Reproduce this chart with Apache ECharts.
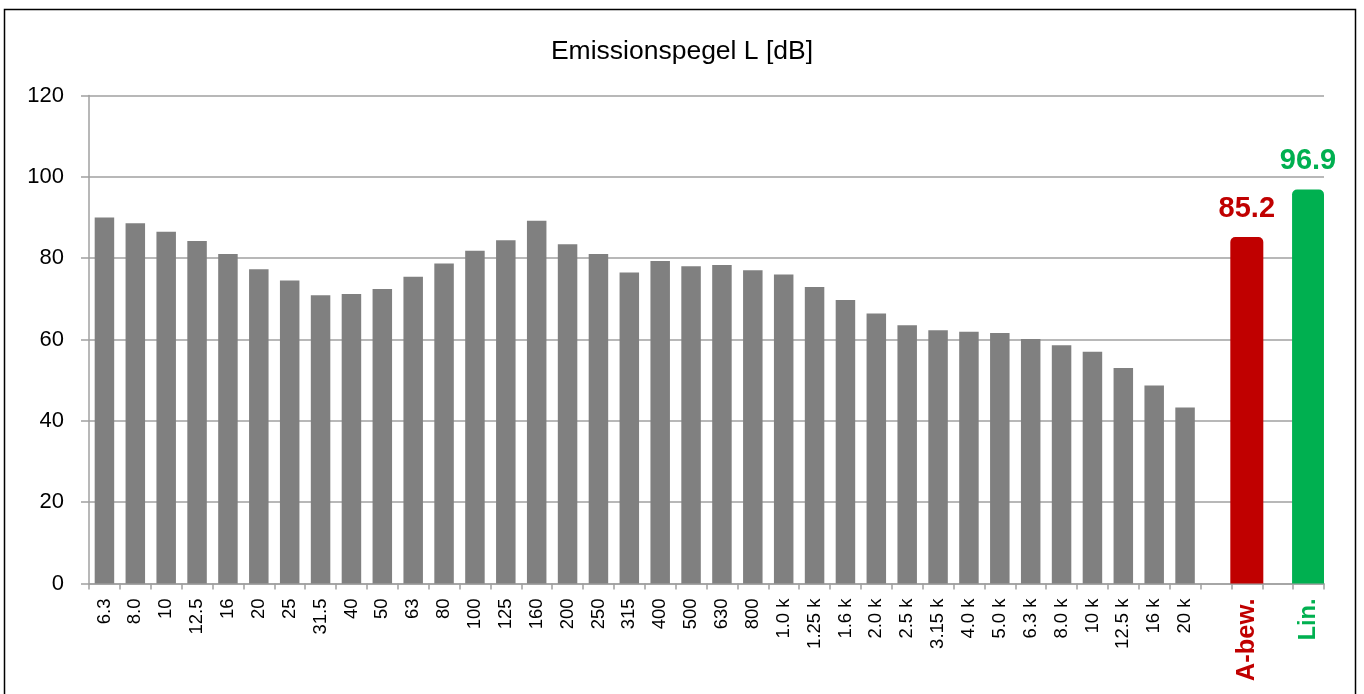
<!DOCTYPE html>
<html>
<head>
<meta charset="utf-8">
<script src="https://cdn.jsdelivr.net/npm/echarts@6/dist/echarts.min.js"></script>
<style>
  html, body { margin: 0; padding: 0; background: #ffffff; }
  #chart { width: 1364px; height: 694px; }
</style>
</head>
<body>
<div id="chart"></div>
<script>
// Third-octave band centre frequencies (Hz)
const bands = ['6.3', '8.0', '10', '12.5', '16', '20', '25', '31.5', '40', '50',
  '63', '80', '100', '125', '160', '200', '250', '315', '400', '500',
  '630', '800', '1.0 k', '1.25 k', '1.6 k', '2.0 k', '2.5 k', '3.15 k', '4.0 k', '5.0 k',
  '6.3 k', '8.0 k', '10 k', '12.5 k', '16 k', '20 k'];

// Emission level per band (dB)
const levels = [90.0, 88.6, 86.5, 84.2, 81.0, 77.3, 74.5, 70.9, 71.2, 72.4,
  75.4, 78.7, 81.8, 84.4, 89.2, 83.4, 81.0, 76.5, 79.3, 78.0,
  78.3, 77.0, 76.0, 72.9, 69.7, 66.4, 63.5, 62.3, 61.9, 61.6,
  60.1, 58.6, 57.0, 53.0, 48.7, 43.3];

// Overall levels: A-weighted and linear (dB)
const totalNames = ['A-bew.', 'Lin.'];
const totalValues = [85.2, 96.9];

// Value axis ticks
const yMin = 0, yMax = 120, yStep = 20;

const FONT = "'Liberation Sans', Arial, sans-serif";
const RED = '#C00000';
const GREEN = '#00B050';
const GRAY = '#808080';
const LINE = '#a0a0a0';

// Category list: bands, spacer, A-bew., spacer, Lin.
const totalColor = [RED, GREEN];
const totalLabelSize = [25.5, 23.5];
const categories = bands.map(b => b).concat([
  '',
  { value: totalNames[0], textStyle: { color: totalColor[0], fontWeight: 'bold', fontSize: totalLabelSize[0] } },
  ' ',
  { value: totalNames[1], textStyle: { color: totalColor[1], fontWeight: 'bold', fontSize: totalLabelSize[1] } }
]);

const bandData = levels.concat(['-', '-', '-', '-']);
const totalData = bands.map(() => '-').concat([
  '-',
  { value: totalValues[0], itemStyle: { color: totalColor[0] }, label: { color: totalColor[0] } },
  '-',
  { value: totalValues[1], itemStyle: { color: totalColor[1] }, label: { color: totalColor[1] } }
]);

const chart = echarts.init(document.getElementById('chart'), null, { renderer: 'canvas' });

chart.setOption({
  animation: false,
  backgroundColor: '#ffffff',
  textStyle: { fontFamily: FONT },
  title: {
    text: 'Emissionspegel L [dB]',
    left: 'center',
    top: 33,
    textStyle: { fontFamily: FONT, fontSize: 26.5, fontWeight: 'normal', color: '#000000' }
  },
  graphic: [{
    type: 'rect',
    silent: true,
    z: 100,
    shape: { x: 4.5, y: 9.5, width: 1351, height: 700 },
    style: { fill: 'none', stroke: '#000000', lineWidth: 1.5 }
  }],
  grid: { left: 89, right: 40, top: 95.5, bottom: 110.5 },
  xAxis: [{
    type: 'category',
    data: categories,
    boundaryGap: true,
    axisLine: { show: true, lineStyle: { color: LINE, width: 1.5 } },
    axisTick: { show: true, length: 6, lineStyle: { color: LINE, width: 1.5 } },
    axisLabel: {
      interval: 0,
      rotate: 90,
      margin: 15,
      fontFamily: FONT,
      fontSize: 18.5,
      color: '#000000'
    },
    splitLine: { show: false }
  }, {
    type: 'category',
    data: categories,
    boundaryGap: true,
    show: false
  }],
  yAxis: {
    type: 'value',
    min: yMin,
    max: yMax,
    interval: yStep,
    axisLine: { show: true, lineStyle: { color: LINE, width: 1.5 } },
    axisTick: { show: true, length: 8, lineStyle: { color: LINE, width: 1.5 } },
    axisLabel: { margin: 25, fontFamily: FONT, fontSize: 22, color: '#000000' },
    splitLine: { show: true, lineStyle: { color: LINE, width: 1.5 } }
  },
  series: [{
    name: 'Terzpegel',
    type: 'bar',
    xAxisIndex: 0,
    data: bandData,
    barWidth: 19.5,
    itemStyle: { color: GRAY },
    z: 2
  }, {
    name: 'Summenpegel',
    type: 'bar',
    xAxisIndex: 1,
    data: totalData,
    barWidth: 33,
    itemStyle: { borderRadius: [5, 5, 0, 0] },
    label: {
      show: true,
      position: 'top',
      distance: 14,
      fontFamily: FONT,
      fontSize: 29,
      fontWeight: 'bold',
      formatter: p => p.value.toFixed(1)
    },
    z: 3
  }]
});
</script>
</body>
</html>
